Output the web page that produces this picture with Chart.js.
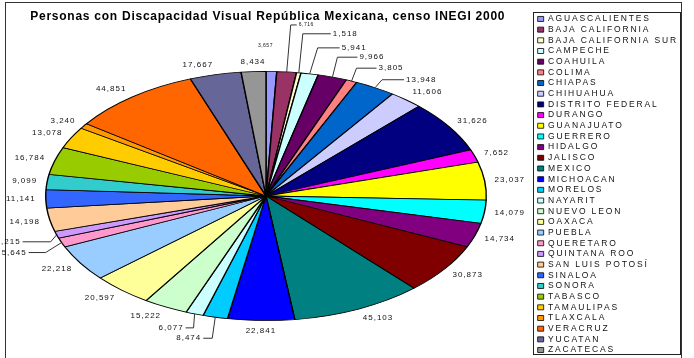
<!DOCTYPE html>
<html>
<head>
<meta charset="utf-8">
<script src="https://cdn.jsdelivr.net/npm/chart.js@4.4.1/dist/chart.umd.min.js"></script>
<style>
  html, body { margin: 0; padding: 0; background: #ffffff; }
  #wrap { position: relative; width: 694px; height: 358px; overflow: hidden; }
  #frame { position: absolute; left: 5px; top: 2px; width: 677px; height: 360px; border: 1px solid #333; box-sizing: border-box; }
  #legendBox { position: absolute; left: 533px; top: 12px; width: 148px; height: 343px; border: 1px solid #222; box-sizing: border-box; }
  canvas { position: absolute; left: 0; top: 0; }
</style>
</head>
<body>
<div id="wrap">
  <div id="frame"></div>
  <div id="legendBox"></div>
  <canvas id="c" width="694" height="358"></canvas>
</div>
<script>
// ---------------- data ----------------
const estados = [
  'AGUASCALIENTES', 'BAJA CALIFORNIA', 'BAJA CALIFORNIA SUR', 'CAMPECHE', 'COAHUILA',
  'COLIMA', 'CHIAPAS', 'CHIHUAHUA', 'DISTRITO FEDERAL', 'DURANGO', 'GUANAJUATO',
  'GUERRERO', 'HIDALGO', 'JALISCO', 'MEXICO', 'MICHOACAN', 'MORELOS', 'NAYARIT',
  'NUEVO LEON', 'OAXACA', 'PUEBLA', 'QUERETARO', 'QUINTANA ROO', 'SAN LUIS POTOSÍ',
  'SINALOA', 'SONORA', 'TABASCO', 'TAMAULIPAS', 'TLAXCALA', 'VERACRUZ', 'YUCATAN', 'ZACATECAS'
];
const valores = [
  3657, 6716, 1518, 5941, 9966,
  3805, 13948, 11606, 31626, 7652, 23037,
  14079, 14734, 30873, 45103, 22841, 8474, 6077,
  15222, 20597, 22218, 5645, 4215, 14198,
  11141, 9099, 16784, 13078, 3240, 44851, 17667, 8434
];
const colores = [
  '#9999FF', '#993366', '#FFFFCC', '#CCFFFF', '#660066',
  '#FF8080', '#0066CC', '#CCCCFF', '#000080', '#FF00FF', '#FFFF00',
  '#00FFFF', '#800080', '#800000', '#008080', '#0000FF', '#00CCFF', '#CCFFFF',
  '#CCFFCC', '#FFFF99', '#99CCFF', '#FF99CC', '#CC99FF', '#FFCC99',
  '#3366FF', '#33CCCC', '#99CC00', '#FFCC00', '#FF9900', '#FF6600', '#666699', '#969696'
];
const titulo = 'Personas con Discapacidad Visual República Mexicana, censo INEGI 2000';

// ---------------- layout / style ----------------
const FONT = '"Liberation Sans", Arial, sans-serif';
const PIE = { cx: 266, cy: 196, r: 125, sx: 1.768 };   // plot area and horizontal stretch
const LABEL_GAP = 10;
const LEGEND_SPACING = '1.85px';
const TITLE_SPACING = '0.75px';
const LABEL_SPACING = '1px';
// leader-line label offsets (relative to the slice edge)
const LEADERS = {
  'AGUASCALIENTES': { dx: -6, dy: -26, len: 0, line: false, small: true },
  'BAJA CALIFORNIA': { dx: 4, dy: -47, len: 6, small: true },
  'BAJA CALIFORNIA SUR': { dx: 4, dy: -39, len: 28 },
  'CAMPECHE': { dx: 8, dy: -26, len: 22 },
  'COAHUILA': { dx: 5, dy: -20, len: 20 },
  'COLIMA': { dx: 5, dy: -13, len: 20 },
  'CHIAPAS': { dx: 7, dy: -8, len: 22 },
  'QUINTANA ROO': { dx: -6, dy: 7, len: 28 },
  'QUERETARO': { dx: -16, dy: 10, len: 17 },
  'NAYARIT': { dx: -1, dy: 14, len: 8 },
  'MORELOS': { dx: -3, dy: 21, len: 9 }
};
const fmt = v => v.toLocaleString('en-US');

const ellipsePlugin = {
  id: 'ellipsePie',
  beforeLayout(chart) { chart.ctx.letterSpacing = LEGEND_SPACING; },
  afterLayout(chart) {
    chart.chartArea = {
      left: PIE.cx - PIE.r, right: PIE.cx + PIE.r,
      top: PIE.cy - PIE.r, bottom: PIE.cy + PIE.r,
      width: 2 * PIE.r, height: 2 * PIE.r
    };
    const tb = chart.titleBlock;
    if (tb && !tb._spaced) {
      const orig = tb.draw.bind(tb);
      tb.draw = function (area) {
        const ctx = chart.ctx;
        ctx.save();
        ctx.letterSpacing = TITLE_SPACING;
        orig(area);
        ctx.restore();
      };
      tb._spaced = true;
    }
  },
  beforeDraw(chart) { chart.ctx.letterSpacing = LEGEND_SPACING; },
  beforeDatasetsDraw(chart) {
    const ctx = chart.ctx;
    const a = chart.getDatasetMeta(0).data[0];
    ctx.save();
    ctx.translate(a.x, a.y);
    ctx.scale(PIE.sx, 1);
    ctx.translate(-a.x, -a.y);
  },
  afterDatasetsDraw(chart) {
    const ctx = chart.ctx;
    ctx.restore();
    const meta = chart.getDatasetMeta(0);
    ctx.save();
    ctx.fillStyle = '#111';
    ctx.strokeStyle = '#333';
    ctx.lineWidth = 1;
    ctx.textBaseline = 'middle';
    meta.data.forEach((arc, i) => {
      const p = arc.getProps(['x', 'y', 'startAngle', 'endAngle', 'outerRadius'], true);
      const mid = (p.startAngle + p.endAngle) / 2;
      const c = Math.cos(mid), s = Math.sin(mid);
      const rx = p.outerRadius * PIE.sx, ry = p.outerRadius;
      const text = fmt(valores[i]);
      const ld = LEADERS[estados[i]];
      if (ld) {
        ctx.font = (ld.small ? '5px ' : '8px ') + FONT;
        ctx.letterSpacing = ld.small ? '0.5px' : LABEL_SPACING;
        const ex = p.x + rx * c, ey = p.y + ry * s;
        const bx = ex + ld.dx, by = ey + ld.dy;
        const dir = c >= 0 ? 1 : -1;
        if (ld.line === false) {
          ctx.textAlign = 'center';
          ctx.fillText(text, bx, by);
        } else {
          ctx.beginPath();
          ctx.moveTo(ex, ey);
          ctx.lineTo(bx, by);
          ctx.lineTo(bx + dir * ld.len, by);
          ctx.stroke();
          ctx.textAlign = dir > 0 ? 'left' : 'right';
          ctx.fillText(text, bx + dir * (ld.len + 2), by);
        }
      } else {
        ctx.font = '8px ' + FONT;
        ctx.letterSpacing = LABEL_SPACING;
        const lx = p.x + (rx + LABEL_GAP) * c, ly = p.y + (ry + LABEL_GAP) * s;
        ctx.textAlign = c > 0.1 ? 'left' : (c < -0.1 ? 'right' : 'center');
        ctx.fillText(text, lx, ly);
      }
    });
    ctx.restore();
  }
};

new Chart(document.getElementById('c'), {
  type: 'pie',
  data: {
    labels: estados,
    datasets: [{
      data: valores,
      backgroundColor: colores,
      borderColor: '#000',
      borderWidth: 0.8
    }]
  },
  options: {
    responsive: false,
    animation: false,
    devicePixelRatio: 1,
    layout: { padding: { top: 11, right: 6, left: 0, bottom: 0 } },
    plugins: {
      tooltip: { enabled: false },
      title: {
        display: true,
        text: titulo,
        position: 'top',
        fullSize: false,
        align: 'center',
        color: '#000',
        font: { family: FONT, size: 12, weight: 'bold', lineHeight: 1 },
        padding: { top: 0, bottom: 0 }
      },
      legend: {
        position: 'right',
        align: 'center',
        labels: {
          boxWidth: 6,
          boxHeight: 5,
          padding: 2.18,
          color: '#111',
          font: { family: FONT, size: 8.5 }
        }
      }
    }
  },
  plugins: [ellipsePlugin]
});
</script>
</body>
</html>
